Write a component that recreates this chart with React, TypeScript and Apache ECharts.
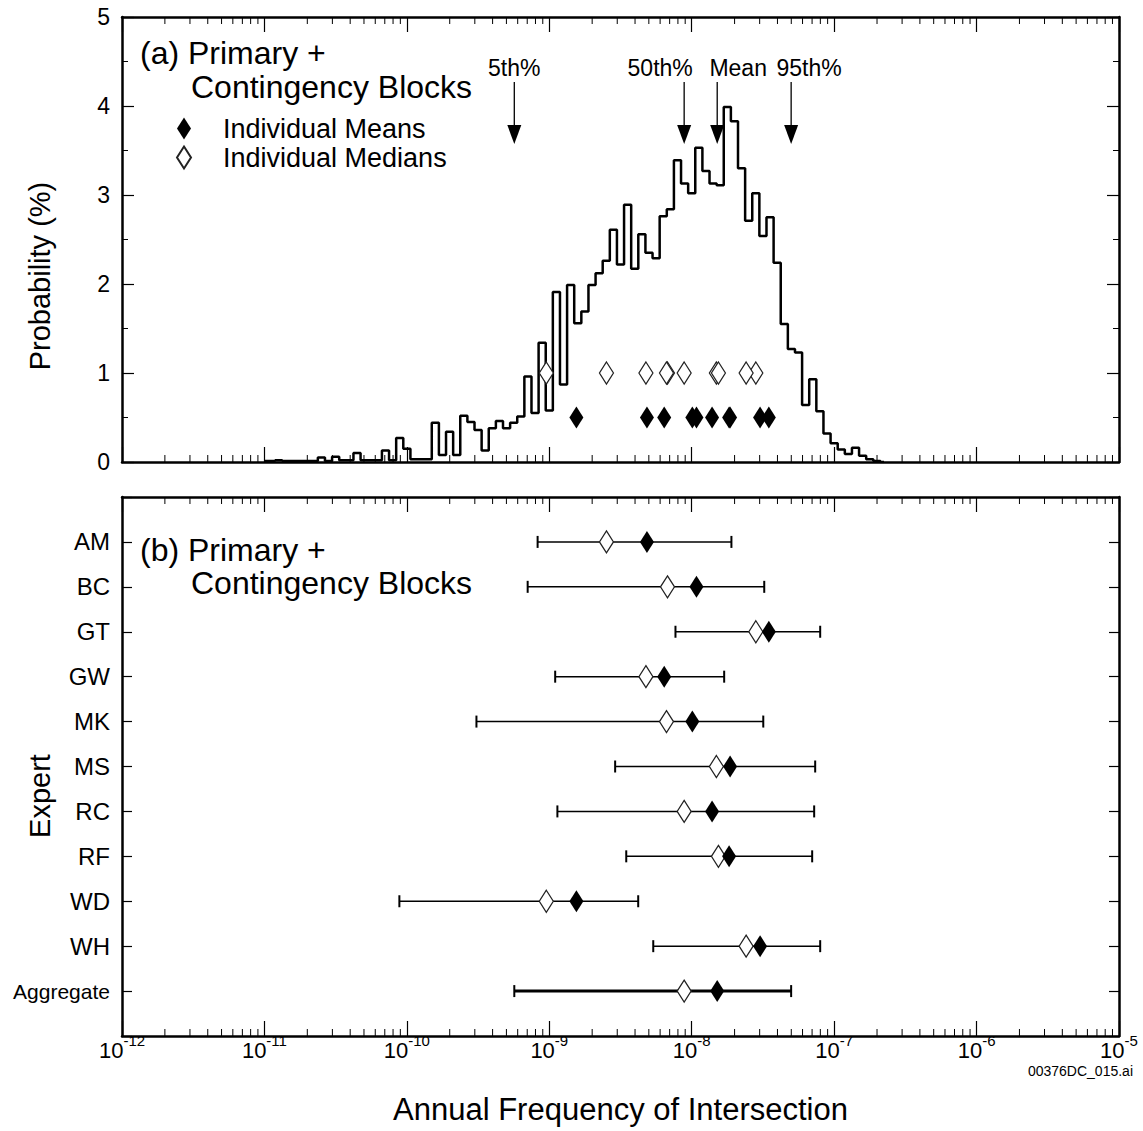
import React, { useEffect, useRef } from 'react';
import * as echarts from 'echarts';

const FONT = '"Liberation Sans", Arial, Helvetica, sans-serif';

// Experts (bottom panel, top to bottom)
const experts = ['AM', 'BC', 'GT', 'GW', 'MK', 'MS', 'RC', 'RF', 'WD', 'WH', 'Aggregate'];
const expertMeans = [4.85e-9, 1.08e-8, 3.48e-8, 6.41e-9, 1.01e-8, 1.86e-8, 1.39e-8, 1.83e-8, 1.55e-9, 3.02e-8, 1.51e-8];
const expertMedians = [2.52e-9, 6.76e-9, 2.82e-8, 4.77e-9, 6.65e-9, 1.49e-8, 8.85e-9, 1.54e-8, 9.53e-10, 2.41e-8, 8.85e-9];
const expertLow = [8.28e-10, 7.05e-10, 7.69e-9, 1.1e-9, 3.08e-10, 2.9e-9, 1.14e-9, 3.47e-9, 8.86e-11, 5.37e-9, 5.68e-10];
const expertHigh = [1.9e-8, 3.23e-8, 7.98e-8, 1.69e-8, 3.18e-8, 7.36e-8, 7.24e-8, 7.01e-8, 4.21e-9, 7.98e-8, 4.99e-8];

// Top panel marker heights (%)
const meanMarkerLevel = 0.5;
const medianMarkerLevel = 1.0;

// Percentile arrows on top panel
const percentileLabels = ['5th%', '50th%', 'Mean', '95th%'];
const percentileValues = [5.68e-10, 8.85e-9, 1.51e-8, 4.99e-8];
const percentileLabelDx = [0, -24, 21, 18]; // layout only

// Histogram: bins centred at log10 = histLogStart + i * histLogStep
const histLogStart = -11;
const histLogStep = 0.05;
const histValues = [
  0.01, 0.01, 0.02, 0.01, 0.01, 0.01, 0.01, 0.01, 0.05, 0.01,
  0.06, 0.02, 0.02, 0.10, 0.02, 0.02, 0.02, 0.13, 0.02, 0.27,
  0.15, 0.03, 0.03, 0.03,
  0.44, 0.08, 0.34, 0.08, 0.52, 0.45, 0.36, 0.13, 0.38, 0.46,
  0.38, 0.44, 0.51, 0.96, 0.55, 1.34, 0.58, 1.91, 0.87, 1.99,
  1.56, 1.69, 1.99, 2.12, 2.26, 2.61, 2.22, 2.89, 2.17, 2.56,
  2.35, 2.29, 2.76, 2.84, 3.39, 3.13, 3.02, 3.53, 3.27, 3.13,
  3.11, 3.99, 3.83, 3.30, 2.71, 3.02, 2.54, 2.75, 2.24, 1.55,
  1.27, 1.23, 0.64, 0.93, 0.57, 0.32, 0.21, 0.14, 0.09, 0.16,
  0.07, 0.03, 0.01, 0,
];

const decadeMinExp = -12;
const decadeMaxExp = -5;

export default function App() {
  const ref = useRef<HTMLDivElement>(null);

  useEffect(() => {
    if (!ref.current) return;
    const chart = echarts.init(ref.current, null, { renderer: 'svg' });

    const histData = histValues.map((v, i) => [Math.pow(10, histLogStart + i * histLogStep), v]);

    const minorTicks: number[][] = [];
    for (let d = decadeMinExp; d < decadeMaxExp; d++) {
      for (let k = 2; k <= 9; k++) minorTicks.push([k * Math.pow(10, d), 0]);
    }

    const axisLineStyle = { color: '#000', width: 2.5 };

    const logAxis = (gridIndex: number, position: string, extra: any = {}) => ({
      type: 'log',
      logBase: 10,
      gridIndex,
      position,
      min: Math.pow(10, decadeMinExp),
      max: Math.pow(10, decadeMaxExp),
      axisLine: { show: true, onZero: false, lineStyle: axisLineStyle },
      axisTick: { show: true, inside: true, length: 15, lineStyle: { color: '#000', width: 1.2 } },
      splitLine: { show: false },
      axisLabel: { show: false },
      ...extra,
    });

    const minorTickRender = (params: any, api: any) => {
      const v = api.value(0);
      const ys = params.coordSys;
      const x = api.coord([v, 0])[0];
      const yTop = ys.y;
      const yBot = ys.y + ys.height;
      const st = { stroke: '#000', lineWidth: 1 };
      return {
        type: 'group',
        children: [
          { type: 'line', shape: { x1: x, y1: yBot, x2: x, y2: yBot - 7 }, style: st },
          { type: 'line', shape: { x1: x, y1: yTop, x2: x, y2: yTop + 7 }, style: st },
        ],
      };
    };

    const filledStyle = { color: '#000', opacity: 1 };
    const openStyle = { color: '#fff', borderColor: '#222', borderWidth: 1.3, opacity: 1 };

    const option: any = {
      animation: false,
      backgroundColor: '#fff',
      textStyle: { fontFamily: FONT, color: '#000' },
      grid: [
        { left: 122, top: 17, width: 997, height: 445, containLabel: false },
        { left: 122, top: 497, width: 997, height: 539, containLabel: false },
      ],
      legend: {
        data: ['Individual Means', 'Individual Medians'],
        orient: 'vertical',
        left: 171,
        top: 110,
        itemWidth: 14,
        itemHeight: 22,
        itemGap: 2,
        selectedMode: false,
        textStyle: { fontSize: 27, lineHeight: 22, fontFamily: FONT, color: '#000', padding: [0, 0, 0, 27] },
      },
      xAxis: [
        logAxis(0, 'bottom'),
        logAxis(0, 'top'),
        logAxis(1, 'bottom', {
          axisLabel: {
            show: true,
            margin: -3,
            formatter: (val: number) => {
              const e = Math.round(Math.log10(val));
              return '{b|10}{s|' + e + '}';
            },
            rich: {
              b: { fontSize: 22, fontFamily: FONT, color: '#000', lineHeight: 28, verticalAlign: 'bottom' },
              s: { fontSize: 15, fontFamily: FONT, color: '#000', verticalAlign: 'top' },
            },
          },
          name: 'Annual Frequency of Intersection',
          nameLocation: 'middle',
          nameGap: 58,
          nameTextStyle: { fontSize: 31, fontFamily: FONT, color: '#000', verticalAlign: 'top' },
        }),
        logAxis(1, 'top'),
      ],
      yAxis: [
        {
          type: 'value', gridIndex: 0, position: 'left', min: 0, max: 5, interval: 1,
          axisLine: { show: true, lineStyle: axisLineStyle },
          axisTick: { show: true, inside: true, length: 12, lineStyle: { color: '#000', width: 1.2 } },
          minorTick: { show: true, splitNumber: 2, length: 6, lineStyle: { color: '#000', width: 1 } },
          splitLine: { show: false },
          axisLabel: { fontSize: 23, fontFamily: FONT, color: '#000', margin: 12 },
        },
        {
          type: 'value', gridIndex: 0, position: 'right', min: 0, max: 5, interval: 1,
          axisLine: { show: true, lineStyle: axisLineStyle },
          axisTick: { show: true, inside: true, length: 12, lineStyle: { color: '#000', width: 1.2 } },
          minorTick: { show: true, splitNumber: 2, length: 6, lineStyle: { color: '#000', width: 1 } },
          splitLine: { show: false },
          axisLabel: { show: false },
        },
        {
          type: 'value', gridIndex: 1, position: 'left', min: 0, max: 12, interval: 1, inverse: true,
          axisLine: { show: true, lineStyle: axisLineStyle },
          axisTick: { show: true, inside: true, length: 10, lineStyle: { color: '#000', width: 1.2 } },
          splitLine: { show: false },
          axisLabel: {
            margin: 12,
            formatter: (v: number) => {
              if (v < 1 || v > experts.length) return '';
              const n = experts[v - 1];
              return n === 'Aggregate' ? '{sm|' + n + '}' : '{lg|' + n + '}';
            },
            rich: {
              lg: { fontSize: 24, fontFamily: FONT, color: '#000' },
              sm: { fontSize: 21, fontFamily: FONT, color: '#000' },
            },
          },
        },
        {
          type: 'value', gridIndex: 1, position: 'right', min: 0, max: 12, interval: 1, inverse: true,
          axisLine: { show: true, lineStyle: axisLineStyle },
          axisTick: { show: true, inside: true, length: 10, lineStyle: { color: '#000', width: 1.2 } },
          splitLine: { show: false },
          axisLabel: { show: false },
        },
      ],
      series: [
        {
          name: 'Histogram',
          type: 'line',
          xAxisIndex: 0,
          yAxisIndex: 0,
          step: 'middle',
          symbol: 'none',
          lineStyle: { color: '#000', width: 2.5 },
          data: histData,
          z: 3,
        },
        {
          name: 'Individual Medians',
          type: 'scatter',
          xAxisIndex: 0,
          yAxisIndex: 0,
          symbol: 'diamond',
          symbolSize: [14, 22],
          itemStyle: openStyle,
          data: expertMedians.slice(0, 10).map((v) => [v, medianMarkerLevel]),
          z: 4,
        },
        {
          name: 'Individual Means',
          type: 'scatter',
          xAxisIndex: 0,
          yAxisIndex: 0,
          symbol: 'diamond',
          symbolSize: [14, 22],
          itemStyle: filledStyle,
          data: expertMeans.slice(0, 10).map((v) => [v, meanMarkerLevel]),
          z: 4,
        },
        {
          name: 'Percentiles',
          type: 'custom',
          xAxisIndex: 0,
          yAxisIndex: 0,
          clip: false,
          data: percentileValues.map((v) => [v, 5]),
          renderItem: (params: any, api: any) => {
            const idx = params.dataIndex;
            const pt = api.coord([api.value(0), 5]);
            const x = pt[0];
            const yTop = params.coordSys.y;
            const textY = yTop + 51;
            const lineTop = yTop + 65;
            const tip = yTop + 127;
            return {
              type: 'group',
              children: [
                {
                  type: 'text',
                  style: {
                    text: percentileLabels[idx],
                    x: x + percentileLabelDx[idx],
                    y: textY,
                    align: 'center',
                    verticalAlign: 'middle',
                    fontSize: 23,
                    fontFamily: FONT,
                    fill: '#000',
                  },
                },
                { type: 'line', shape: { x1: x, y1: lineTop, x2: x, y2: tip - 12 }, style: { stroke: '#000', lineWidth: 1.3 } },
                { type: 'polygon', shape: { points: [[x - 7, tip - 19], [x + 7, tip - 19], [x, tip]] }, style: { fill: '#000' } },
              ],
            };
          },
        },
        {
          name: 'MinorTicksTop',
          type: 'custom',
          xAxisIndex: 0,
          yAxisIndex: 0,
          clip: false,
          silent: true,
          data: minorTicks,
          renderItem: minorTickRender,
        },
        {
          name: 'MinorTicksBottom',
          type: 'custom',
          xAxisIndex: 2,
          yAxisIndex: 2,
          clip: false,
          silent: true,
          data: minorTicks,
          renderItem: minorTickRender,
        },
        {
          name: 'Ranges',
          type: 'custom',
          xAxisIndex: 2,
          yAxisIndex: 2,
          clip: false,
          encode: { x: [1, 2], y: 0 },
          data: experts.map((_, i) => [i + 1, expertLow[i], expertHigh[i]]),
          renderItem: (params: any, api: any) => {
            const row = api.value(0);
            const p1 = api.coord([api.value(1), row]);
            const p2 = api.coord([api.value(2), row]);
            const w = row === experts.length ? 3 : 1.5;
            const st = { stroke: '#000', lineWidth: w };
            const capSt = { stroke: '#000', lineWidth: 2 };
            return {
              type: 'group',
              children: [
                { type: 'line', shape: { x1: p1[0], y1: p1[1], x2: p2[0], y2: p2[1] }, style: st },
                { type: 'line', shape: { x1: p1[0], y1: p1[1] - 6, x2: p1[0], y2: p1[1] + 6 }, style: capSt },
                { type: 'line', shape: { x1: p2[0], y1: p2[1] - 6, x2: p2[0], y2: p2[1] + 6 }, style: capSt },
              ],
            };
          },
        },
        {
          name: 'Expert Medians',
          type: 'scatter',
          xAxisIndex: 2,
          yAxisIndex: 2,
          symbol: 'diamond',
          symbolSize: [14, 22],
          itemStyle: openStyle,
          data: expertMedians.map((v, i) => [v, i + 1]),
          z: 4,
        },
        {
          name: 'Expert Means',
          type: 'scatter',
          xAxisIndex: 2,
          yAxisIndex: 2,
          symbol: 'diamond',
          symbolSize: [14, 22],
          itemStyle: filledStyle,
          data: expertMeans.map((v, i) => [v, i + 1]),
          z: 5,
        },
      ],
      graphic: [
        { type: 'text', left: 140, top: 37, style: { text: '(a) Primary +', fontSize: 32, fontFamily: FONT, fill: '#000' } },
        { type: 'text', left: 191, top: 71, style: { text: 'Contingency Blocks', fontSize: 32, fontFamily: FONT, fill: '#000' } },
        { type: 'text', left: 140, top: 534, style: { text: '(b) Primary +', fontSize: 32, fontFamily: FONT, fill: '#000' } },
        { type: 'text', left: 191, top: 567, style: { text: 'Contingency Blocks', fontSize: 32, fontFamily: FONT, fill: '#000' } },
        {
          type: 'text', x: 40, y: 276, rotation: Math.PI / 2,
          style: { text: 'Probability (%)', fontSize: 29, fontFamily: FONT, fill: '#000', align: 'center', verticalAlign: 'middle' },
        },
        {
          type: 'text', x: 40, y: 796, rotation: Math.PI / 2,
          style: { text: 'Expert', fontSize: 29, fontFamily: FONT, fill: '#000', align: 'center', verticalAlign: 'middle' },
        },
        { type: 'text', right: 10, top: 1064, style: { text: '00376DC_015.ai', fontSize: 14, fontFamily: FONT, fill: '#000' } },
      ],
    };

    chart.setOption(option);
    return () => chart.dispose();
  }, []);

  return (
    <div
      ref={ref}
      style={{ position: 'absolute', left: 0, top: 0, width: 1143, height: 1131, background: '#fff' }}
    />
  );
}
